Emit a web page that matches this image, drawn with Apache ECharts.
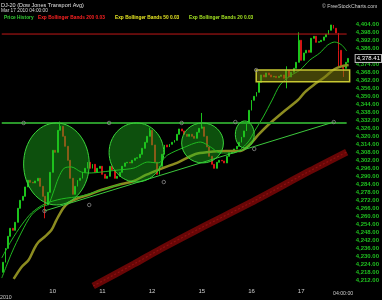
<!DOCTYPE html>
<html><head><meta charset="utf-8">
<script src="https://cdn.jsdelivr.net/npm/echarts@6/dist/echarts.min.js"></script>
<style>html,body{margin:0;padding:0;background:#000;}#c{width:382px;height:300px;}</style>
</head><body><div id="c"></div>
<script>
// ---- DATA ----
const dayLabels = ['10', '11', '12', '15', '16', '17'];
const dayStartIdx = [20, 40, 60, 80, 100, 120];
const firstOpen = 4218;
const closes = [
4225.5,4236,4245,4251,4249.5,4255.5,4266,4272,4275,4282,
4287,4285.5,4285,4286.5,4288.5,4282.5,4275,4268.5,4278,4293,
4309.5,4308,4324.5,4327.5,4320,4312.5,4302,4288.5,4276.5,4282.5,
4287,4288.5,4293,4296,4300.5,4296,4299,4293,4296,4297.5,
4291.5,4288.5,4290,4297.5,4294.5,4288.5,4290,4293,4297.5,4300,
4300.5,4300,4302,4303.5,4304,4306.5,4311,4315.5,4320,4324.5,
4313.5,4300.5,4291.5,4297.5,4306.5,4313.5,4312,4314,4315.5,4317,
4321.5,4325.5,4324,4321.5,4320,4321.5,4320,4318.5,4323,4326,
4327,4320,4312,4305,4299,4296,4300.5,4302,4301.5,4300,
4305,4307.5,4309,4310.5,4312.5,4315.5,4319.5,4324,4330.5,4339.5,
4347,4350,4353,4360.5,4366,4364.5,4367.5,4366,4364.5,4365,
4364,4365,4366,4363.5,4369.5,4364.5,4368,4371,4375.5,4392,
4377,4382.5,4384.5,4383,4393.5,4395,4390.5,4391,4392,4394.5,
4396.5,4399.5,4403.5,4401,4397.5,4384.5,4372.5,4371,4375.5,4378.41
];
// notable wicks: index -> [low, high]
const wicks = {17:[4258.5,null],23:[null,4331],59:[null,4326.5],80:[null,4337.5],
  114:[4356,4372.5],119:[null,4398],135:[4372,null],137:[4364.5,null]};
const lastPrice = 4378.41;

// Exp Bollinger Bands 200 (dark red band)
const bb200 = [[36.3,4207.7],[52.7,4224.2],[63.5,4235.5],[79.5,4251.2],[99.5,4270.0],[123.5,4294.0],[138.3,4308.2]];
// Exp Bollinger Bands 50 (olive)
const bb50 = [[4.3,4213.0],[7.5,4222.0],[10.3,4227.2],[12.7,4236.2],[14.3,4240.7],[16.7,4244.5],[19.5,4249.7],
  [21.5,4257.2],[24.3,4266.2],[26.3,4270.0],[30.3,4273.7],[34.3,4276.0],[39.5,4279.7],[46.3,4283.5],
  [52.7,4286.5],[57.5,4291.0],[64.3,4296.2],[70.7,4300.7],[77.5,4306.7],[82.7,4308.2],[89.5,4309.0],
  [95.5,4309.0],[99.5,4314.2],[102.7,4321.0],[106.7,4328.5],[112.3,4337.5],[118.7,4347.2],[121.5,4353.2],
  [125.5,4359.2],[129.5,4364.5],[133.5,4370.5],[136.7,4372.7],[139.1,4373.5]];
// Exp Bollinger Bands 20 (green)
const bb20 = [[-0.5,4213.7],[3.5,4232.5],[7.5,4248.2],[11.5,4261.0],[15.5,4267.0],[18.3,4269.2],[20.3,4278.2],
  [22.3,4288.7],[24.7,4296.2],[27.5,4297.0],[31.5,4293.2],[35.5,4292.5],[39.5,4293.2],[46.3,4294.7],
  [52.7,4296.2],[58.3,4300.7],[62.3,4300.0],[66.3,4306.0],[72.3,4311.2],[79.5,4315.7],[83.5,4312.0],
  [87.5,4307.5],[92.7,4307.5],[98.3,4315.0],[101.5,4324.7],[104.7,4334.5],[108.3,4347.2],[111.5,4358.5],
  [115.5,4365.2],[119.5,4369.7],[123.5,4377.2],[127.5,4382.5],[130.7,4388.5],[133.5,4390.7],[136.3,4388.5],[138.3,4384.0]];
const bb20b = [[-0.5,4228.7],[3.5,4242.2],[7.5,4253.5],[11.5,4262.5],[16.7,4269.2],[23.5,4273.0],[31.5,4275.2],[39.5,4279.7],[47.5,4284.2]];

// drawn annotations
const resistance = 4396.7;
const support = 4330;
const lineSpan = [-0.5, 138.3];
const trend = [[16.7,4264.0],[133.1,4330.7]];
const ellipses = [[8.3,4330,34.7,4268.5],[42.7,4330,64.7,4285.7],[71.9,4330,88.7,4300],[93.5,4331.5,101.1,4311.2]];
const zone = [[101.9,4369.7,139.5,4360.9]];
const anchors = [[8.3,4330],[42.7,4330],[71.9,4330],[93.5,4330.7],[133.1,4330.7],[16.7,4264.0],
  [34.7,4268.5],[64.7,4285.7],[101.1,4310.5],[101.9,4369.7]];

// ---- BUILD ----
const N = closes.length;
const xLabels = closes.map(() => '');
dayStartIdx.forEach((k, j) => { xLabels[k] = dayLabels[j]; });
const candles = closes.map((c, i) => {
  const o = i === 0 ? firstOpen : closes[i - 1];
  const w = wicks[i] || [null, null];
  let lo = Math.min(o, c), hi = Math.max(o, c);
  if (w[0] != null) lo = Math.min(lo, w[0]);
  if (w[1] != null) hi = Math.max(hi, w[1]);
  return [o, c, lo, hi];
});
const fmt = v => v.toLocaleString('en-US', {minimumFractionDigits: 2, maximumFractionDigits: 2});

const chart = echarts.init(document.getElementById('c'), null, {renderer: 'canvas'});
const F = 'Liberation Sans, Arial, sans-serif';
const txt = (x, y, s, color, size, bold) => ({type: 'text', left: x, top: y, silent: true,
  style: {text: s, fill: color, font: (bold ? 'bold ' : '') + size + 'px ' + F}});

chart.setOption({
  animation: false,
  backgroundColor: '#000',
  grid: {left: 0, right: 32, top: 16.3, bottom: 11.7},
  xAxis: [
    {type: 'category', data: xLabels, boundaryGap: true,
     axisLine: {show: false}, axisTick: {show: false}, splitLine: {show: false},
     axisLabel: {interval: 0, color: '#cfcfcf', fontSize: 6, fontFamily: F, margin: 0}},
    {type: 'value', min: -0.5, max: N - 0.5, show: false}
  ],
  yAxis: {type: 'value', position: 'right', min: 4206, max: 4410, interval: 6, scale: true,
    axisLine: {show: false}, axisTick: {show: false}, splitLine: {show: false},
    axisLabel: {color: '#1fc01f', fontSize: 6, fontWeight: 'bold', fontFamily: F, margin: 6,
      formatter: v => (v <= 4206 || v >= 4410 || Math.abs(v - lastPrice) < 3) ? '' : fmt(v)}},
  series: [
    {type: 'line', xAxisIndex: 1, data: bb200, smooth: 0.3, symbol: 'none', z: 2,
     lineStyle: {color: '#680606', width: 7}},
    {type: 'line', xAxisIndex: 1, data: bb200, smooth: 0.3, symbol: 'none', z: 2,
     lineStyle: {color: '#8e1010', width: 1.2, type: [2, 2]}},
    {type: 'candlestick', data: candles, barWidth: 1.4, z: 3,
     itemStyle: {color: '#1cc31c', color0: '#d41414', borderColor: '#1cc31c', borderColor0: '#d41414', borderWidth: 1},
     markLine: {silent: true, symbol: 'none', data: [{yAxis: lastPrice}],
       lineStyle: {color: 'rgba(0,0,0,0)', width: 0.1},
       label: {show: true, position: 'end', distance: 6, formatter: fmt(lastPrice), color: '#ffffff',
         fontSize: 6, fontFamily: F, backgroundColor: '#000', borderColor: '#bbbbbb', borderWidth: 1, padding: [1, 1, 0, 1]}}},
    {type: 'line', xAxisIndex: 1, data: bb50, smooth: 0.3, symbol: 'none', z: 4,
     lineStyle: {color: '#8c8c20', width: 2.5}},
    {type: 'line', xAxisIndex: 1, data: bb20, smooth: 0.3, symbol: 'none', z: 4,
     lineStyle: {color: '#22b822', width: 1}},
    {type: 'line', xAxisIndex: 1, data: bb20b, smooth: 0.3, symbol: 'none', z: 4,
     lineStyle: {color: '#22b822', width: 1}},
    {type: 'line', xAxisIndex: 1, data: lineSpan.map(x => [x, resistance]), symbol: 'none', z: 5,
     lineStyle: {color: '#c01818', width: 1}},
    {type: 'line', xAxisIndex: 1, data: lineSpan.map(x => [x, support]), symbol: 'none', z: 5,
     lineStyle: {color: '#2a962a', width: 2}},
    {type: 'line', xAxisIndex: 1, data: trend, symbol: 'none', z: 5,
     lineStyle: {color: '#3cc83c', width: 1}},
    {type: 'custom', xAxisIndex: 1, data: ellipses, z: 6, encode: {x: [0, 2], y: [1, 3]},
     renderItem: (params, api) => {
       const p1 = api.coord([api.value(0), api.value(1)]);
       const p2 = api.coord([api.value(2), api.value(3)]);
       return {type: 'ellipse', shape: {cx: (p1[0] + p2[0]) / 2, cy: (p1[1] + p2[1]) / 2,
         rx: Math.abs(p2[0] - p1[0]) / 2, ry: Math.abs(p2[1] - p1[1]) / 2},
         style: {fill: 'rgba(30,190,30,0.42)', stroke: '#3ad43a', lineWidth: 1}};
     }},
    {type: 'custom', xAxisIndex: 1, data: zone, z: 6, encode: {x: [0, 2], y: [1, 3]},
     renderItem: (params, api) => {
       const p1 = api.coord([api.value(0), api.value(1)]);
       const p2 = api.coord([api.value(2), api.value(3)]);
       return {type: 'rect', shape: {x: p1[0], y: p1[1], width: p2[0] - p1[0], height: p2[1] - p1[1]},
         style: {fill: 'rgba(120,120,15,0.55)', stroke: '#c8c832', lineWidth: 1.5}};
     }},
    {type: 'scatter', xAxisIndex: 1, data: anchors, symbol: 'circle', symbolSize: 3.5, z: 7,
     itemStyle: {color: 'rgba(0,0,0,0)', borderColor: '#8a8a8a', borderWidth: 1}}
  ],
  graphic: [
    txt(1, 2, 'DJ-20 (Dow Jones Transport Avg)', '#e0e0e0', 5.5, false),
    txt(1, 8.5, 'Mar 17 2010 04:00:00', '#d8d8d8', 4.8, false),
    txt(4, 15.5, 'Price History', '#33cc33', 4.8, true),
    txt(38, 15.5, 'Exp Bollinger Bands 200 0.03', '#ff2222', 4.8, true),
    txt(115, 15.5, 'Exp Bollinger Bands 50 0.03', '#e6e622', 4.8, true),
    txt(189, 15.5, 'Exp Bollinger Bands 20 0.03', '#a6e622', 4.8, true),
    txt(322, 4, '\u00a9 FreeStockCharts.com', '#cccccc', 5.2, false),
    txt(333, 291.5, '04:00:00', '#cccccc', 5.2, false),
    txt(0, 295.5, '2010', '#cccccc', 5.2, false)
  ]
});
</script></body></html>
